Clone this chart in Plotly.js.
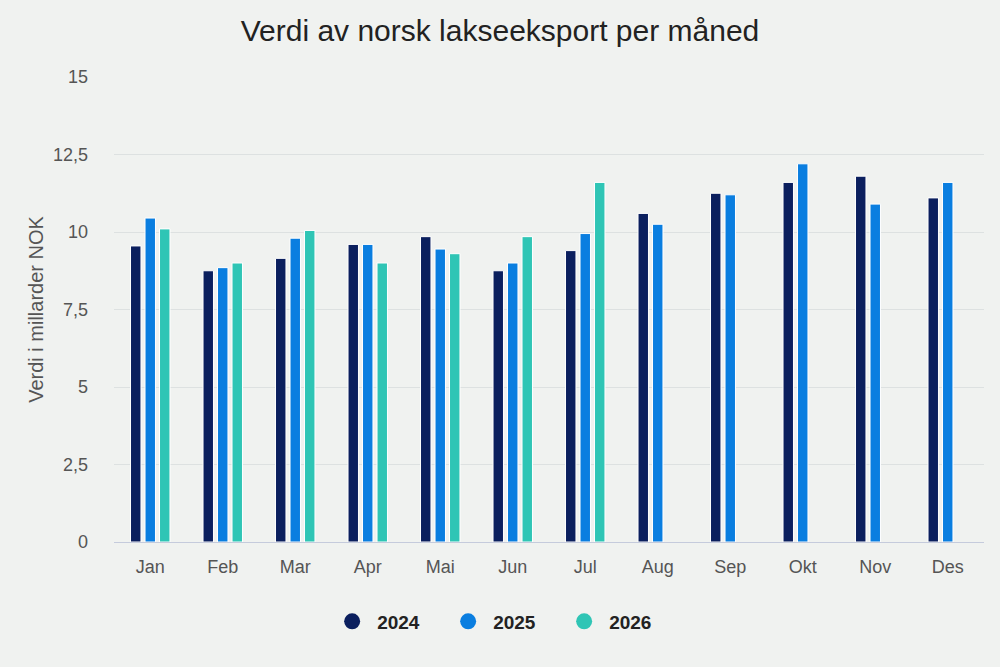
<!DOCTYPE html>
<html>
<head>
<meta charset="utf-8">
<script src="https://cdn.plot.ly/plotly-3.0.1.min.js"></script>
<style>
  html, body { margin: 0; padding: 0; background: #f0f2f0; }
  #plot { width: 1000px; height: 667px; }
</style>
</head>
<body>
<div id="plot"></div>
<script>
// Månedlig eksportverdi, milliarder NOK (lest av fra figuren)
var months = ['Jan', 'Feb', 'Mar', 'Apr', 'Mai', 'Jun', 'Jul', 'Aug', 'Sep', 'Okt', 'Nov', 'Des'];
var years = ['2024', '2025', '2026'];
var values2024 = [9.55, 8.75, 9.15, 9.6, 9.85, 8.75, 9.4, 10.6, 11.25, 11.6, 11.8, 11.1];
var values2025 = [10.45, 8.85, 9.8, 9.6, 9.45, 9.0, 9.95, 10.25, 11.2, 12.2, 10.9, 11.6];
var values2026 = [10.1, 9.0, 10.05, 9.0, 9.3, 9.85, 11.6];
var colors = ['#0b1f5e', '#0a7ee0', '#2fc5b5'];
var yTicks = [0, 2.5, 5, 7.5, 10, 12.5, 15];
var yTickText = ['0', '2,5', '5', '7,5', '10', '12,5', '15'];

var series = [values2024, values2025, values2026];

var data = [];
// the bars themselves, no legend entry
for (var i = 0; i < series.length; i++) {
  data.push({
    type: 'bar',
    name: years[i],
    x: months.slice(0, series[i].length),
    y: series[i],
    marker: {color: colors[i], line: {color: '#ffffff', width: 1}},
    showlegend: false,
    hovertemplate: '%{x} ' + years[i] + ': %{y}<extra></extra>'
  });
}
// round legend markers
for (var i = 0; i < years.length; i++) {
  data.push({
    type: 'scatter',
    mode: 'markers',
    name: years[i],
    x: [null],
    y: [null],
    marker: {color: colors[i], size: 20, symbol: 'circle'},
    hoverinfo: 'skip'
  });
}

var layout = {
  width: 1000,
  height: 667,
  paper_bgcolor: '#f0f2f0',
  plot_bgcolor: '#f0f2f0',
  font: {family: '"Liberation Sans", Arial, sans-serif', color: '#555555', size: 16},
  title: {
    text: 'Verdi av norsk lakseeksport per måned',
    font: {size: 30, color: '#222222'},
    x: 0.5,
    xanchor: 'center',
    y: 0.955,
    yanchor: 'middle'
  },
  margin: {l: 114, r: 16, t: 77, b: 125},
  barmode: 'group',
  bargap: 0.4,
  bargroupgap: 0.28,
  xaxis: {
    type: 'category',
    categoryorder: 'array',
    categoryarray: months,
    showgrid: false,
    showline: true,
    linecolor: '#c5cbdc',
    linewidth: 1,
    ticks: '',
    ticklen: 0,
    ticklabelstandoff: 8,
    tickfont: {size: 18, color: '#555555'},
    fixedrange: true
  },
  yaxis: {
    range: [0, 15],
    tickvals: yTicks,
    ticktext: yTickText,
    showgrid: true,
    gridcolor: '#dde1e1',
    gridwidth: 1,
    zeroline: false,
    showline: false,
    ticks: '',
    ticklabelstandoff: 25,
    tickfont: {size: 18, color: '#555555'},
    title: {text: 'Verdi i millarder NOK', font: {size: 20, color: '#555555'}, standoff: 3},
    fixedrange: true
  },
  legend: {
    orientation: 'h',
    x: 0.445,
    xanchor: 'center',
    y: -0.13,
    yanchor: 'top',
    font: {size: 19, color: '#222222', weight: 'bold'},
    itemwidth: 40,
    entrywidth: 61,
    entrywidthmode: 'pixels',
    bgcolor: 'rgba(0,0,0,0)'
  }
};

Plotly.newPlot('plot', data, layout, {displayModeBar: false, responsive: false});
</script>
</body>
</html>
